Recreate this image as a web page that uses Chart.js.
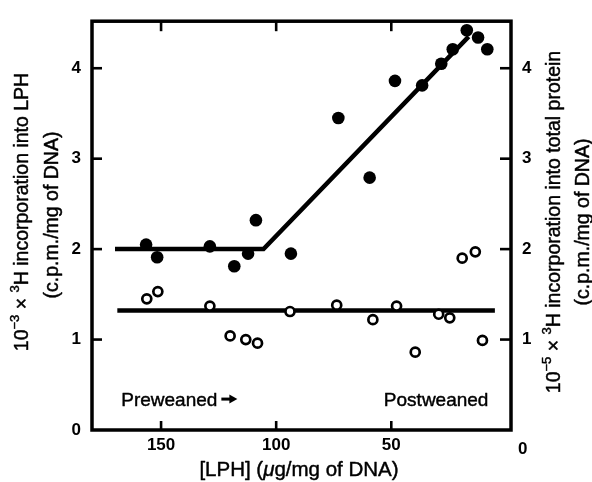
<!DOCTYPE html>
<html><head><meta charset="utf-8">
<script src="https://cdn.jsdelivr.net/npm/chart.js@4/dist/chart.umd.min.js"></script>
<style>html,body{margin:0;padding:0;background:#fff}#wrap{width:592px;height:482px}</style>
</head><body><div id="wrap"><canvas id="c" width="592" height="482"></canvas></div>
<script>
// [LPH] (ug/mg DNA) on x; LPH incorporation (filled) and total protein incorporation (open)
const lphX  = [156.5,151.7,128.8,118.2,112.2,108.8,93.6,73.0,59.4,48.4,36.6,28.3,23.3,17.2,12.3,8.3];
const lphY  = [2.05,1.91,2.03,1.81,1.95,2.32,1.95,3.45,2.79,3.86,3.81,4.05,4.21,4.42,4.34,4.21];
const protX = [156.2,151.4,128.8,120.0,113.2,108.1,94.0,73.7,58.0,47.7,39.6,29.4,24.6,19.2,13.5,10.4];
const protY = [1.45,1.53,1.37,1.04,1.00,0.96,1.31,1.38,1.22,1.37,0.86,1.28,1.24,1.90,1.97,0.99];
const lphFitX  = [170,105.5,16.4];
const lphFitY  = [2.0,2.0,4.35];
const protFitX = [169,5];
const protFitY = [1.32,1.32];
const xTicks  = [150,100,50];
const yTicks  = [0,1,2,3,4];
const y2Ticks = [1,2,3,4];
const y2ZeroLabel = '0';
const xRange = [-2,180];
const yRange = [0,4.52];
const notes = ['Preweaned','Postweaned'];
const noteX = [167.3,7.8];
const noteY = [0.27,0.27];
const leftTitle1  = [['10',0],['\u22123',1],[' \u00d7 ',0],['3',1],['H incorporation into LPH',0]];
const rightTitle1 = [['10',0],['\u22125',1],[' \u00d7 ',0],['3',1],['H incorporation into total protein',0]];
const title2 = '(c.p.m./mg of DNA)';
const xTitle = [['[LPH] (',0],['\u03bc',2],['g/mg of DNA)',0]];

const FAM = '"Liberation Sans", Arial, sans-serif';
const pts = (xs, ys) => xs.map((v,i)=>({x:v,y:ys[i]}));

function fontFor(k,size){
  if(k===1) return `${Math.round(size*0.68)}px ${FAM}`;
  if(k===2) return `italic ${size}px ${FAM}`;
  return `${size}px ${FAM}`;
}
function richWidth(ctx, parts, size){
  let w=0;
  for(const [t,k] of parts){ ctx.font = fontFor(k,size); w+=ctx.measureText(t).width; }
  return w;
}
function drawRich(ctx, parts, cx, cy, rot, size){
  ctx.save();
  ctx.translate(cx,cy); ctx.rotate(rot);
  const w = richWidth(ctx, parts, size);
  let x = -w/2;
  ctx.textBaseline='alphabetic'; ctx.textAlign='left'; ctx.fillStyle='#000';
  ctx.strokeStyle='#000'; ctx.lineWidth=0.45; ctx.lineJoin='round';
  for(const [t,k] of parts){
    ctx.font = fontFor(k,size);
    const yy = k===1 ? -size*0.47 : 0;
    ctx.fillText(t, x, yy); ctx.strokeText(t, x, yy);
    x += ctx.measureText(t).width;
  }
  ctx.restore();
}

const decor = {
  id:'decor',
  afterDraw(chart){
    const {ctx, chartArea:a, scales:{x,y,y2}} = chart;
    ctx.save();
    ctx.strokeStyle='#000'; ctx.lineCap='butt';
    ctx.lineWidth=3.5;
    ctx.strokeRect(a.left,a.top,a.right-a.left,a.bottom-a.top);
    ctx.lineWidth=2.6;
    const seg=(x1,y1,x2,y2_)=>{ctx.beginPath();ctx.moveTo(x1,y1);ctx.lineTo(x2,y2_);ctx.stroke();};
    xTicks.forEach(v=>{const px=x.getPixelForValue(v); seg(px,a.bottom,px,a.bottom-9); seg(px,a.top,px,a.top+10);});
    yTicks.filter(v=>v>0).forEach(v=>{const py=y.getPixelForValue(v); seg(a.left,py,a.left+10,py);});
    y2Ticks.forEach(v=>{const py=y2.getPixelForValue(v); seg(a.right,py,a.right-11,py);});

    // right-axis zero label sitting in the x label row
    ctx.fillStyle='#000'; ctx.font=`bold 17px ${FAM}`; ctx.textAlign='left'; ctx.textBaseline='middle';
    ctx.fillText(y2ZeroLabel, a.right+7, a.bottom+19);

    // notes
    ctx.font=`19px ${FAM}`; ctx.textBaseline='alphabetic';
    ctx.lineWidth=0.45; ctx.lineJoin='round';
    ctx.textAlign='left';
    const p0x=x.getPixelForValue(noteX[0]), p0y=y.getPixelForValue(noteY[0]);
    ctx.fillText(notes[0], p0x, p0y); ctx.strokeText(notes[0], p0x, p0y);
    const w0=ctx.measureText(notes[0]).width;
    const ax=p0x+w0+4, ay=p0y-6.5;
    ctx.lineWidth=3; seg(ax,ay,ax+9,ay);
    ctx.beginPath(); ctx.moveTo(ax+8,ay-4.5); ctx.lineTo(ax+16,ay); ctx.lineTo(ax+8,ay+4.5); ctx.closePath(); ctx.fill();
    ctx.textAlign='right'; ctx.lineWidth=0.45;
    const p1x=x.getPixelForValue(noteX[1]), p1y=y.getPixelForValue(noteY[1]);
    ctx.fillText(notes[1], p1x, p1y); ctx.strokeText(notes[1], p1x, p1y);

    // axis titles
    drawRich(ctx, leftTitle1, 28, 212, -Math.PI/2, 19.5);
    drawRich(ctx, [[title2,0]], 58, 215, -Math.PI/2, 19.5);
    drawRich(ctx, rightTitle1, 560, 222, -Math.PI/2, 19.5);
    drawRich(ctx, [[title2,0]], 589, 222, -Math.PI/2, 19.5);
    drawRich(ctx, xTitle, 299, 476, 0, 20.5);
    ctx.restore();
  }
};

const tickFont = {family:FAM, size:17, weight:'bold'};
new Chart(document.getElementById('c'), {
  type:'scatter',
  data:{datasets:[
    {label:'LPH', data:pts(lphX,lphY), order:1, pointRadius:6.3, pointHoverRadius:6.3, pointBackgroundColor:'#000', pointBorderWidth:0, showLine:false},
    {label:'Total protein', data:pts(protX,protY), order:1, pointRadius:4.5, pointHoverRadius:4.5, pointBackgroundColor:'#fff', pointBorderColor:'#000', pointBorderWidth:2.7, showLine:false},
    {label:'LPH fit', data:pts(lphFitX,lphFitY), order:5, showLine:true, borderColor:'#000', borderWidth:4.5, pointRadius:0, borderJoinStyle:'miter', fill:false},
    {label:'Protein fit', data:pts(protFitX,protFitY), order:5, showLine:true, borderColor:'#000', borderWidth:4.5, pointRadius:0, fill:false}
  ]},
  options:{
    responsive:false, animation:false, devicePixelRatio:1,
    layout:{padding:{top:13,left:0,right:0,bottom:0}},
    plugins:{legend:{display:false}, tooltip:{enabled:false}},
    scales:{
      x:{type:'linear', reverse:true, min:xRange[0], max:xRange[1],
        afterBuildTicks:s=>{s.ticks=xTicks.map(v=>({value:v}));},
        afterFit:s=>{s.height=52;},
        grid:{display:false, drawTicks:false}, border:{display:false},
        ticks:{font:tickFont, color:'#000', padding:5, maxRotation:0}},
      y:{type:'linear', position:'left', min:yRange[0], max:yRange[1],
        afterBuildTicks:s=>{s.ticks=yTicks.map(v=>({value:v}));},
        afterFit:s=>{s.width=92;},
        grid:{display:false, drawTicks:false}, border:{display:false},
        ticks:{font:tickFont, color:'#000', padding:11}},
      y2:{type:'linear', position:'right', min:yRange[0], max:yRange[1],
        afterBuildTicks:s=>{s.ticks=y2Ticks.map(v=>({value:v}));},
        afterFit:s=>{s.width=81;},
        grid:{display:false, drawTicks:false}, border:{display:false},
        ticks:{font:tickFont, color:'#000', padding:11}}
    }
  },
  plugins:[decor]
});
</script></body></html>
